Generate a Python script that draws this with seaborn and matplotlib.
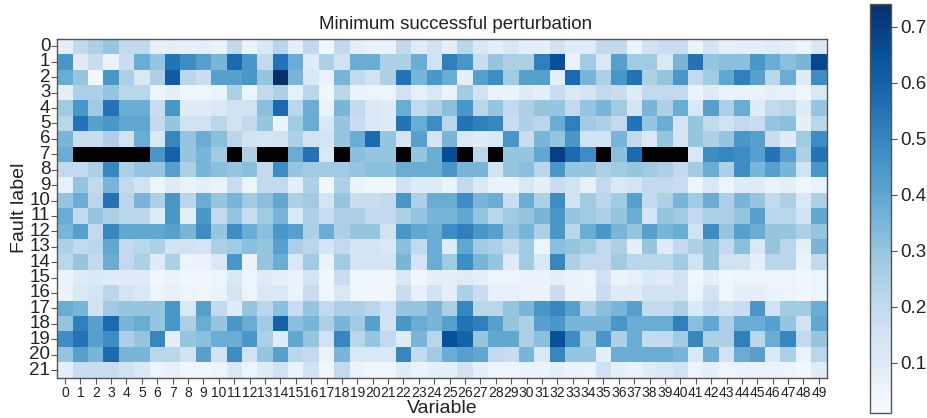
import numpy as np
import pandas as pd
import matplotlib
matplotlib.use("Agg")
import matplotlib.pyplot as plt
import seaborn as sns

nan = np.nan

fault_labels = [str(i) for i in range(22)]
variables = [str(j) for j in range(50)]

# Minimum successful perturbation per fault label (rows) and variable (columns);
# NaN means no successful perturbation was found.
row_00 = [0.08, 0.20, 0.25, 0.30, 0.20, 0.20, 0.07, 0.08, 0.07, 0.08, 0.06, 0.20, 0.06, 0.12, 0.22, 0.08, 0.20, 0.04, 0.20, 0.08, 0.06, 0.06, 0.20, 0.10, 0.15, 0.08, 0.22, 0.12, 0.08, 0.12, 0.08, 0.08, 0.15, 0.10, 0.10, 0.20, 0.20, 0.06, 0.15, 0.18, 0.18, 0.06, 0.14, 0.07, 0.08, 0.08, 0.10, 0.08, 0.05, 0.12]
row_01 = [0.45, 0.10, 0.18, 0.06, 0.18, 0.38, 0.30, 0.55, 0.48, 0.42, 0.35, 0.58, 0.45, 0.20, 0.55, 0.38, 0.10, 0.25, 0.15, 0.38, 0.38, 0.25, 0.25, 0.38, 0.15, 0.52, 0.45, 0.18, 0.30, 0.25, 0.25, 0.52, 0.65, 0.06, 0.28, 0.12, 0.42, 0.28, 0.28, 0.12, 0.35, 0.55, 0.30, 0.32, 0.32, 0.45, 0.38, 0.32, 0.35, 0.68]
row_02 = [0.38, 0.30, 0.03, 0.45, 0.25, 0.12, 0.25, 0.62, 0.22, 0.18, 0.42, 0.42, 0.45, 0.30, 0.74, 0.35, 0.12, 0.06, 0.35, 0.20, 0.15, 0.25, 0.55, 0.35, 0.45, 0.38, 0.08, 0.42, 0.48, 0.28, 0.42, 0.42, 0.08, 0.58, 0.35, 0.25, 0.45, 0.55, 0.25, 0.30, 0.45, 0.20, 0.28, 0.40, 0.52, 0.42, 0.22, 0.38, 0.10, 0.48]
row_03 = [0.08, 0.25, 0.25, 0.30, 0.22, 0.22, 0.05, 0.08, 0.04, 0.04, 0.05, 0.25, 0.05, 0.20, 0.25, 0.07, 0.22, 0.04, 0.22, 0.06, 0.05, 0.05, 0.15, 0.07, 0.12, 0.06, 0.28, 0.15, 0.06, 0.06, 0.10, 0.08, 0.18, 0.12, 0.14, 0.20, 0.18, 0.10, 0.20, 0.20, 0.20, 0.06, 0.10, 0.06, 0.06, 0.06, 0.08, 0.07, 0.04, 0.12]
row_04 = [0.28, 0.45, 0.28, 0.55, 0.38, 0.38, 0.18, 0.45, 0.10, 0.10, 0.12, 0.15, 0.15, 0.32, 0.58, 0.22, 0.38, 0.06, 0.35, 0.20, 0.12, 0.10, 0.38, 0.20, 0.25, 0.32, 0.45, 0.22, 0.30, 0.20, 0.25, 0.30, 0.30, 0.20, 0.30, 0.35, 0.28, 0.14, 0.35, 0.25, 0.38, 0.12, 0.42, 0.25, 0.38, 0.10, 0.20, 0.22, 0.10, 0.30]
row_05 = [0.22, 0.55, 0.42, 0.45, 0.40, 0.40, 0.20, 0.30, 0.15, 0.15, 0.22, 0.15, 0.20, 0.30, 0.06, 0.28, 0.38, 0.12, 0.30, 0.18, 0.12, 0.10, 0.55, 0.38, 0.48, 0.22, 0.55, 0.52, 0.50, 0.18, 0.25, 0.22, 0.38, 0.52, 0.28, 0.25, 0.20, 0.55, 0.30, 0.38, 0.14, 0.30, 0.20, 0.15, 0.20, 0.18, 0.30, 0.32, 0.08, 0.22]
row_06 = [0.35, 0.18, 0.18, 0.25, 0.15, 0.38, 0.12, 0.50, 0.30, 0.38, 0.32, 0.22, 0.15, 0.14, 0.15, 0.25, 0.15, 0.14, 0.30, 0.38, 0.58, 0.30, 0.14, 0.42, 0.14, 0.35, 0.12, 0.10, 0.12, 0.45, 0.18, 0.35, 0.30, 0.45, 0.15, 0.15, 0.35, 0.20, 0.12, 0.30, 0.14, 0.30, 0.25, 0.30, 0.45, 0.42, 0.18, 0.10, 0.28, 0.48]
row_07 = [0.38, nan, nan, nan, nan, nan, 0.45, 0.60, 0.30, 0.35, 0.28, nan, 0.25, nan, nan, 0.38, 0.55, 0.12, nan, 0.32, 0.30, 0.30, nan, 0.30, 0.38, 0.66, nan, 0.22, nan, 0.30, 0.30, 0.40, 0.70, 0.58, 0.48, nan, 0.32, 0.58, nan, nan, nan, 0.12, 0.48, 0.50, 0.48, 0.42, 0.55, 0.42, 0.25, 0.55]
row_08 = [0.20, 0.20, 0.25, 0.50, 0.25, 0.30, 0.30, 0.42, 0.25, 0.35, 0.32, 0.30, 0.32, 0.20, 0.48, 0.30, 0.28, 0.28, 0.28, 0.30, 0.32, 0.32, 0.38, 0.38, 0.38, 0.45, 0.35, 0.35, 0.15, 0.30, 0.32, 0.22, 0.45, 0.30, 0.30, 0.25, 0.28, 0.30, 0.28, 0.25, 0.20, 0.28, 0.38, 0.25, 0.48, 0.35, 0.42, 0.35, 0.15, 0.45]
row_09 = [0.07, 0.30, 0.20, 0.35, 0.20, 0.15, 0.05, 0.10, 0.06, 0.08, 0.06, 0.18, 0.05, 0.20, 0.20, 0.08, 0.25, 0.04, 0.25, 0.06, 0.04, 0.04, 0.16, 0.10, 0.10, 0.06, 0.20, 0.12, 0.06, 0.06, 0.12, 0.08, 0.18, 0.15, 0.07, 0.20, 0.12, 0.14, 0.20, 0.20, 0.18, 0.05, 0.12, 0.05, 0.10, 0.10, 0.06, 0.08, 0.04, 0.06]
row_10 = [0.30, 0.38, 0.22, 0.55, 0.22, 0.35, 0.25, 0.45, 0.22, 0.38, 0.30, 0.35, 0.28, 0.32, 0.40, 0.25, 0.28, 0.14, 0.30, 0.18, 0.18, 0.20, 0.45, 0.25, 0.38, 0.38, 0.48, 0.35, 0.38, 0.18, 0.38, 0.25, 0.48, 0.15, 0.28, 0.22, 0.28, 0.42, 0.20, 0.25, 0.35, 0.28, 0.38, 0.25, 0.35, 0.30, 0.20, 0.25, 0.12, 0.25]
row_11 = [0.38, 0.20, 0.30, 0.25, 0.22, 0.22, 0.10, 0.45, 0.08, 0.45, 0.20, 0.30, 0.18, 0.28, 0.35, 0.12, 0.25, 0.18, 0.25, 0.25, 0.20, 0.20, 0.25, 0.30, 0.35, 0.35, 0.40, 0.30, 0.22, 0.28, 0.30, 0.35, 0.45, 0.30, 0.28, 0.25, 0.30, 0.38, 0.14, 0.30, 0.28, 0.20, 0.25, 0.25, 0.30, 0.42, 0.22, 0.22, 0.15, 0.40]
row_12 = [0.35, 0.42, 0.20, 0.50, 0.40, 0.40, 0.40, 0.42, 0.35, 0.48, 0.30, 0.48, 0.38, 0.32, 0.45, 0.42, 0.25, 0.38, 0.25, 0.30, 0.30, 0.15, 0.45, 0.40, 0.38, 0.48, 0.52, 0.45, 0.42, 0.30, 0.35, 0.25, 0.45, 0.22, 0.38, 0.45, 0.35, 0.30, 0.42, 0.35, 0.38, 0.15, 0.48, 0.30, 0.42, 0.38, 0.30, 0.30, 0.25, 0.30]
row_13 = [0.25, 0.20, 0.22, 0.40, 0.20, 0.22, 0.25, 0.15, 0.15, 0.14, 0.25, 0.28, 0.32, 0.30, 0.42, 0.25, 0.22, 0.14, 0.20, 0.14, 0.14, 0.12, 0.32, 0.20, 0.38, 0.10, 0.40, 0.28, 0.25, 0.20, 0.28, 0.05, 0.32, 0.30, 0.28, 0.20, 0.25, 0.08, 0.30, 0.10, 0.20, 0.25, 0.30, 0.20, 0.32, 0.12, 0.30, 0.22, 0.08, 0.35]
row_14 = [0.22, 0.30, 0.20, 0.38, 0.20, 0.25, 0.10, 0.25, 0.05, 0.06, 0.12, 0.45, 0.06, 0.30, 0.38, 0.12, 0.28, 0.06, 0.28, 0.14, 0.14, 0.14, 0.35, 0.14, 0.38, 0.28, 0.48, 0.35, 0.30, 0.10, 0.28, 0.12, 0.50, 0.25, 0.20, 0.20, 0.28, 0.22, 0.22, 0.22, 0.28, 0.15, 0.30, 0.15, 0.15, 0.08, 0.22, 0.22, 0.06, 0.20]
row_15 = [0.06, 0.10, 0.12, 0.10, 0.10, 0.10, 0.04, 0.06, 0.04, 0.04, 0.05, 0.12, 0.05, 0.10, 0.08, 0.06, 0.14, 0.04, 0.18, 0.04, 0.04, 0.04, 0.12, 0.04, 0.08, 0.08, 0.10, 0.08, 0.05, 0.05, 0.06, 0.06, 0.08, 0.06, 0.05, 0.16, 0.06, 0.07, 0.12, 0.10, 0.15, 0.04, 0.08, 0.04, 0.05, 0.05, 0.05, 0.05, 0.04, 0.05]
row_16 = [0.06, 0.12, 0.14, 0.22, 0.14, 0.12, 0.05, 0.07, 0.05, 0.04, 0.06, 0.14, 0.05, 0.12, 0.12, 0.06, 0.18, 0.04, 0.12, 0.04, 0.04, 0.04, 0.18, 0.07, 0.15, 0.08, 0.25, 0.18, 0.07, 0.07, 0.06, 0.06, 0.18, 0.06, 0.06, 0.18, 0.10, 0.10, 0.15, 0.15, 0.15, 0.05, 0.15, 0.04, 0.08, 0.08, 0.06, 0.05, 0.04, 0.05]
row_17 = [0.38, 0.35, 0.15, 0.28, 0.30, 0.30, 0.30, 0.45, 0.12, 0.42, 0.20, 0.10, 0.30, 0.22, 0.32, 0.18, 0.30, 0.20, 0.25, 0.25, 0.22, 0.16, 0.30, 0.30, 0.35, 0.25, 0.50, 0.22, 0.22, 0.30, 0.35, 0.45, 0.50, 0.42, 0.25, 0.32, 0.35, 0.42, 0.20, 0.20, 0.25, 0.12, 0.18, 0.15, 0.18, 0.45, 0.15, 0.28, 0.28, 0.38]
row_18 = [0.30, 0.52, 0.42, 0.58, 0.35, 0.38, 0.30, 0.45, 0.25, 0.38, 0.30, 0.45, 0.38, 0.28, 0.60, 0.32, 0.35, 0.25, 0.35, 0.28, 0.42, 0.15, 0.45, 0.38, 0.35, 0.42, 0.55, 0.52, 0.42, 0.30, 0.25, 0.42, 0.45, 0.35, 0.35, 0.35, 0.45, 0.38, 0.38, 0.38, 0.52, 0.32, 0.40, 0.25, 0.38, 0.38, 0.42, 0.30, 0.15, 0.40]
row_19 = [0.48, 0.55, 0.42, 0.48, 0.25, 0.30, 0.50, 0.08, 0.30, 0.32, 0.38, 0.38, 0.45, 0.25, 0.10, 0.40, 0.30, 0.15, 0.50, 0.22, 0.30, 0.20, 0.10, 0.35, 0.22, 0.65, 0.60, 0.30, 0.40, 0.40, 0.25, 0.32, 0.65, 0.48, 0.28, 0.45, 0.25, 0.38, 0.20, 0.20, 0.28, 0.50, 0.25, 0.25, 0.52, 0.22, 0.38, 0.50, 0.20, 0.30]
row_20 = [0.30, 0.42, 0.35, 0.58, 0.35, 0.35, 0.22, 0.22, 0.15, 0.42, 0.15, 0.48, 0.15, 0.30, 0.42, 0.22, 0.20, 0.06, 0.35, 0.12, 0.12, 0.12, 0.50, 0.20, 0.28, 0.38, 0.42, 0.40, 0.20, 0.18, 0.35, 0.12, 0.50, 0.30, 0.30, 0.08, 0.38, 0.38, 0.38, 0.38, 0.35, 0.12, 0.38, 0.15, 0.38, 0.42, 0.12, 0.25, 0.06, 0.22]
row_21 = [0.08, 0.18, 0.18, 0.18, 0.15, 0.12, 0.05, 0.07, 0.04, 0.04, 0.05, 0.12, 0.05, 0.10, 0.15, 0.06, 0.15, 0.04, 0.20, 0.06, 0.04, 0.04, 0.10, 0.06, 0.08, 0.08, 0.15, 0.08, 0.05, 0.05, 0.06, 0.06, 0.08, 0.06, 0.05, 0.16, 0.08, 0.06, 0.10, 0.12, 0.15, 0.05, 0.08, 0.05, 0.06, 0.06, 0.06, 0.05, 0.04, 0.10]

rows = [row_00, row_01, row_02, row_03, row_04, row_05, row_06, row_07,
        row_08, row_09, row_10, row_11, row_12, row_13, row_14, row_15,
        row_16, row_17, row_18, row_19, row_20, row_21]
perturbation = pd.DataFrame(rows, index=fault_labels, columns=variables)

sns.set_theme(style="ticks")
plt.rcParams['font.family'] = ['Liberation Sans', 'DejaVu Sans']
text_color = "#222222"
frame_color = "#555555"

fig = plt.figure(figsize=(9.28, 4.18), dpi=100)
ax = fig.add_axes([0.0617, 0.0964, 0.829, 0.811])
cax = fig.add_axes([0.938, 0.012, 0.0226, 0.978])

# cells without a value show the black axes background
ax.set_facecolor("black")
sns.heatmap(perturbation, ax=ax, cbar_ax=cax, cmap="Blues",
            vmin=0.01, vmax=0.74,
            xticklabels=variables, yticklabels=fault_labels)

ax.set_title("Minimum successful perturbation", fontsize=13.5,
             color=text_color, pad=7, x=0.518)
ax.set_xlabel("Variable", fontsize=14, color=text_color, labelpad=0)
ax.set_ylabel("Fault label", fontsize=14, color=text_color, labelpad=1)
ax.tick_params(axis="x", labelsize=10, rotation=0, length=4, width=0.8,
               color=frame_color, labelcolor=text_color, pad=2)
ax.tick_params(axis="y", labelsize=13.5, rotation=0, length=4, width=0.8,
               color=frame_color, labelcolor=text_color, pad=1)
for spine in ax.spines.values():
    spine.set_visible(True)
    spine.set_color(frame_color)
    spine.set_linewidth(1.0)

cbar = ax.collections[0].colorbar
cbar.outline.set_visible(True)
cbar.outline.set_linewidth(1.0)
cbar.outline.set_edgecolor(frame_color)
cbar.set_ticks([0.1, 0.2, 0.3, 0.4, 0.5, 0.6, 0.7])
cbar.ax.tick_params(labelsize=13.5, length=4, width=0.8, color=frame_color,
                    labelcolor=text_color, pad=2)

fig.savefig("out.png", dpi=100)
